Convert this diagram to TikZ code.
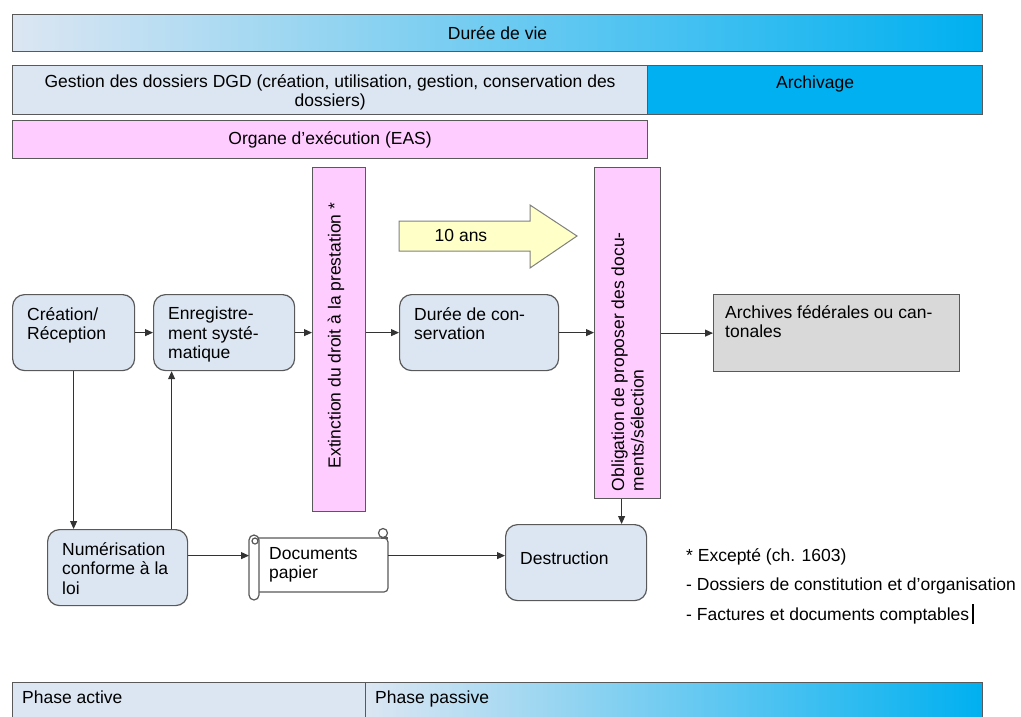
\documentclass[tikz,border=0pt]{standalone}
\usepackage{fontspec}
\setmainfont{Liberation Sans}
\usetikzlibrary{arrows.meta}

\definecolor{paleblue}{HTML}{DCE6F2}
\definecolor{midblue}{HTML}{BCD9F2}
\definecolor{skyblue}{HTML}{00B0F0}
\definecolor{mauve}{HTML}{FFCCFF}
\definecolor{greybox}{HTML}{D9D9D9}
\definecolor{pastelyellow}{HTML}{FFFFC8}
\definecolor{edgegrey}{HTML}{595959}

\begin{document}
\begin{tikzpicture}[x=1pt, y=-1pt,
  font=\fontsize{17.5}{19.5}\selectfont,
  band/.style={draw=edgegrey, line width=1.2pt, inner sep=0pt, anchor=north west, align=center},
  procbox/.style={draw=edgegrey, fill=paleblue, rounded corners=12pt, line width=1.2pt, inner sep=0pt, anchor=north west},
  intext/.style={anchor=north west, align=left, inner xsep=15pt, inner ysep=13pt},
  pinkbar/.style={draw=edgegrey, fill=mauve, line width=1.2pt, inner sep=0pt, anchor=north west},
  scrollline/.style={draw=edgegrey, line width=1.2pt},
  flow/.style={draw=black!80, line width=1pt, -{Triangle[length=8pt,width=7pt]}}]

\useasboundingbox (0,0) rectangle (1021,716);

% bands at the top
\node[band, minimum width=970pt, minimum height=37pt, left color=paleblue, middle color=midblue, right color=skyblue] (vie) at (12,14) {Durée de vie};
\node[band, minimum width=635pt, minimum height=49pt, fill=paleblue] (gestion) at (12,65) {\rule{0pt}{17pt}Gestion des dossiers DGD (création, utilisation, gestion, conservation des\\dossiers)};
\node[band, minimum width=335pt, minimum height=49pt, fill=skyblue] (archivage) at (647,65) {\rule{0pt}{17pt}Archivage\\\phantom{x}};
\node[band, minimum width=635pt, minimum height=38pt, fill=mauve] (organe) at (12,120) {Organe d’exécution (EAS)};

% vertical bars
\node[pinkbar, minimum width=53pt, minimum height=344pt] (bar1) at (312,167) {};
\node[rotate=90] (bar1txt) at ([xshift=-3pt,yshift=4pt]bar1.center) {Extinction du droit à la prestation *};
\node[pinkbar, minimum width=66pt, minimum height=331pt] (bar2) at (594,167) {};
\node[rotate=90, anchor=west, align=left, inner sep=0pt] (bar2txt) at ([yshift=8pt]bar2.south) {Obligation de proposer des docu-\\ments/sélection};

% 10 ans
\draw[draw=gray, fill=pastelyellow, line width=1pt] (399,221) -- (530,221) -- (530,205) -- (577,236) -- (530,268) -- (530,251) -- (399,251) -- cycle;
\node (dixans) at (461,235) {10 ans};

% process boxes
\node[procbox, minimum width=122pt, minimum height=76pt, label={[intext]north west:{Création/\\Réception}}] (crea) at (12,294) {};
\node[procbox, minimum width=141pt, minimum height=76pt, label={[intext]north west:{Enregistre-\\ment systé-\\matique}}] (enreg) at (153,294) {};
\node[procbox, minimum width=159pt, minimum height=76pt, label={[intext]north west:{Durée de con-\\servation}}] (duree) at (399,294) {};
\node[draw=edgegrey, fill=greybox, line width=1.2pt, inner sep=0pt, anchor=north west, minimum width=246pt, minimum height=77pt, label={[intext, inner xsep=12pt, inner ysep=11pt]north west:{Archives fédérales ou can-\\tonales}}] (arch) at (713,294) {};
\node[procbox, minimum width=140pt, minimum height=76pt, label={[intext]north west:{Numérisation\\conforme à la\\loi}}] (num) at (47,529) {};
\node[procbox, minimum width=141pt, minimum height=76pt, label={[intext, inner ysep=28pt]north west:{Destruction}}] (destr) at (505,524) {};

% documents papier (scroll)
\node[inner sep=0pt, anchor=north west, minimum width=139pt, minimum height=68pt] (docs) at (249,532) {};
\draw[scrollline, fill=white, rounded corners=4pt] (256,538) -- (388,538) -- (388,592) -- (256,592);
\draw[scrollline, fill=white] (383,533) circle (4.5pt);
\draw[scrollline] (381,538) -- (388,538);
\draw[scrollline, fill=white, rounded corners=5pt] (249,535) rectangle (259,600);
\draw[scrollline] (255,541) circle (3pt);
\node[anchor=north west, align=left, inner sep=0pt] (docstxt) at (269,547) {Documents\\papier};

% connectors
\draw[flow] (crea.east) -- (enreg.west);
\draw[flow] (enreg.east) -- (enreg.east -| bar1.west);
\draw[flow] (duree.west -| bar1.east) -- (duree.west);
\draw[flow] (duree.east) -- (duree.east -| bar2.west);
\draw[flow] (arch.west -| bar2.east) -- (arch.west);
\draw[flow] (crea.south) -- (crea.south |- num.north);
\draw[flow] ([xshift=54pt]num.north) -- ([xshift=54pt]num.north |- enreg.south);
\coordinate (lowrow) at ([yshift=12pt]num.east);
\draw[flow] (lowrow) -- (lowrow -| docs.west);
\draw[flow] (lowrow -| docs.east) -- (lowrow -| destr.west);
\draw[flow] ([xshift=-6pt]bar2.south) -- ([xshift=-6pt]bar2.south |- destr.north);

% notes
\node[anchor=north west, align=left, inner sep=0pt] (notes) at (686,548) {* Excepté (ch. 1603)\\[10pt]- Dossiers de constitution et d’organisation\\[10pt]- Factures et documents comptables};
\draw[line width=1.6pt] (973,604) -- (973,624);

% phases
\node[band, minimum width=353pt, minimum height=48pt, fill=paleblue] (active) at (12,682) {};
\node[band, minimum width=617pt, minimum height=48pt, left color=paleblue, middle color=midblue, right color=skyblue] (passive) at (365,682) {};
\node[anchor=north west, inner sep=0pt] (activetxt) at (22,691) {Phase active};
\node[anchor=north west, inner sep=0pt] (passivetxt) at (375,691) {Phase passive};
\end{tikzpicture}
\end{document}
